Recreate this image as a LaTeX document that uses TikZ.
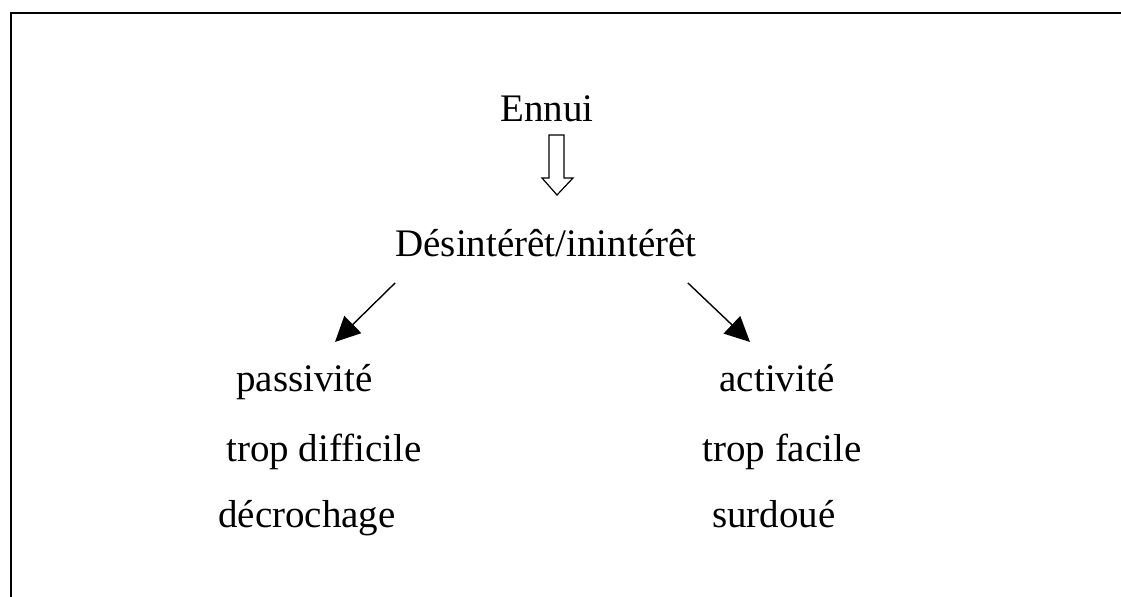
\documentclass[tikz,border=0pt]{standalone}
\usepackage{fontspec}
\setmainfont{Liberation Serif}
\usetikzlibrary{arrows.meta}

\begin{document}
\begin{tikzpicture}[x=0.5pt, y=-0.5pt,
        motnode/.style={inner sep=0pt, anchor=base, font=\fontsize{19.5}{24}\selectfont},
        fleche/.style={-{Triangle[length=12.5pt, width=12pt]}, line width=0.7pt},
        creux/.style={line width=0.6pt, line join=miter}]

        \useasboundingbox (0,0) rectangle (1121,597);
        \draw[line width=1pt] (10.5,597) |- (1121,13);

        \node[motnode] (ennui) at (547,122) {Ennui};
        \node[motnode] (desint) at (546,257) {Désintérêt/inintérêt};

        \node[motnode] (passiv) at (304.5,392) {passivité};
        \node[motnode] (diffic) at (324,462) {trop difficile};
        \node[motnode] (decroch) at (307,528) {décrochage};

        \node[motnode] (activ) at (777,392) {activité};
        \node[motnode] (facile) at (782,462) {trop facile};
        \node[motnode] (surdoue) at (774,528) {surdoué};

        \draw[creux] ([xshift=1pt, yshift=-6.5pt]ennui.base) -- ++(7.5pt,0) -- ++(0,-21.5pt)
                -- ++(4.5pt,0) -- ++(-8pt,-8.5pt) -- ++(-7.5pt,8.5pt) -- ++(3.5pt,0) -- cycle;

        \draw[fleche] ([yshift=-13pt]desint.base west) -- ([xshift=15.25pt, yshift=25pt]passiv.base);
        \draw[fleche] ([xshift=-4.5pt, yshift=-13pt]desint.base east) -- ([xshift=-13.5pt, yshift=25pt]activ.base);

\end{tikzpicture}
\end{document}
